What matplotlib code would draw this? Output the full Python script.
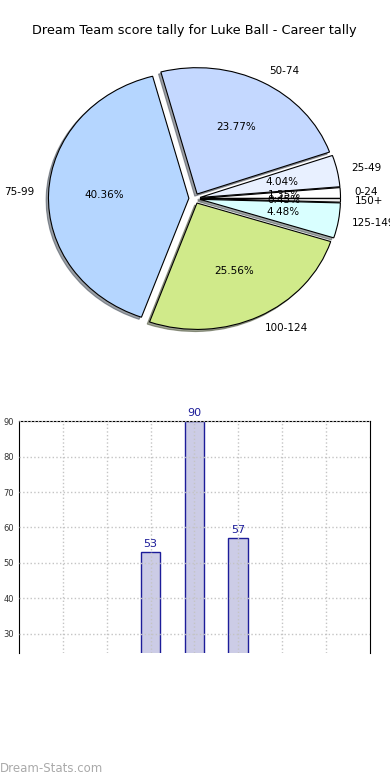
import matplotlib
matplotlib.use('Agg')
import matplotlib.pyplot as plt

# pie: share of games per score band
bands = ['0-24', '25-49', '50-74', '75-99', '100-124', '125-149', '150+']
shares = [1.35, 4.04, 23.77, 40.36, 25.56, 4.48, 0.45]
colors = ['#ffffff', '#e8f0ff', '#c4d8ff', '#b5d6ff', '#d0ea8a', '#d9ffff', '#f0f0f0']

# bars: visible part of the lower chart
bar_pos = [3, 4, 5]
bar_vals = [53, 90, 57]

fig = plt.figure(figsize=(3.9, 7.8), dpi=100)

# top: pie chart (stretched, old style)
ax1 = fig.add_axes([0.0487, 0.543, 0.9, 0.405])
ax1.pie(shares, labels=bands, colors=colors, explode=[0.04] * len(shares),
        autopct='%1.2f%%', shadow={'ox': -0.012, 'oy': -0.012},
        startangle=0,
        wedgeprops={'edgecolor': 'black', 'linewidth': 0.8},
        textprops={'fontsize': 7.5})
ax1.set_aspect('auto')
ax1.set_xlim(-1.25, 1.25)
ax1.set_ylim(-1.25, 1.25)
ax1.set_title('Dream Team score tally for Luke Ball - Career tally', fontsize=9.3, pad=5)

# bottom: bar chart, only the top part shows
ax2 = fig.add_axes([0.0487, 0.163, 0.9, 0.297])
ax2.bar(bar_pos, bar_vals, width=0.45, color='#cccce6', edgecolor='#1c1c99', linewidth=1)
for x, v in zip(bar_pos, bar_vals):
    ax2.text(x, v + 1, str(v), ha='center', va='bottom', fontsize=8, color='#1c1c99')
ax2.set_xlim(0, 8)
ax2.set_ylim(24.6, 90)
ax2.set_xticks(range(1, 8))
ax2.set_xticklabels([])
ax2.set_yticks(range(30, 91, 10))
ax2.tick_params(axis='y', labelsize=6, length=0, labelcolor='#333333')
ax2.tick_params(axis='x', length=0)
ax2.grid(True, linestyle=':', color='#c4c4c4', linewidth=1)
ax2.set_axisbelow(False)
ax2.spines['bottom'].set_visible(False)

fig.text(0.0, 0.01, 'Dream-Stats.com', fontsize=8.5, color='#aaaaaa')

fig.savefig('out.png', dpi=100)
